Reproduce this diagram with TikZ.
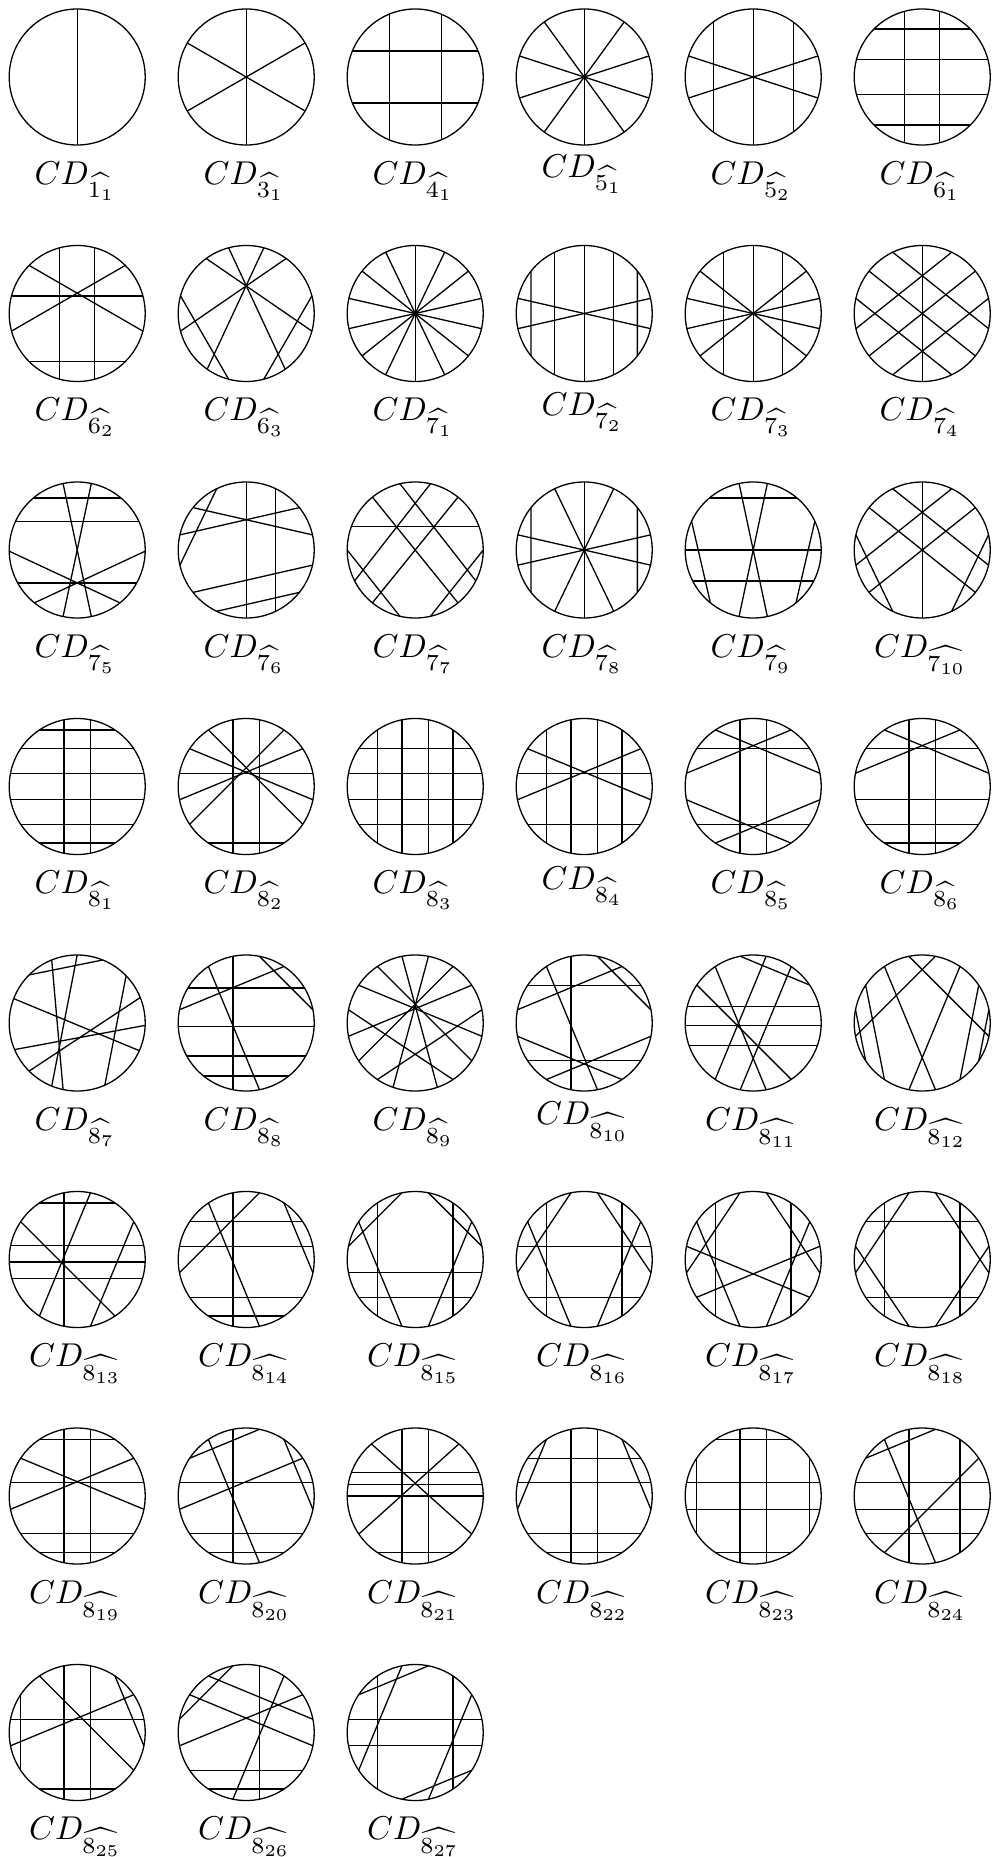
\documentclass[tikz,border=0pt]{standalone}
\usetikzlibrary{calc}
\tikzset{
  cdc/.style={circle, draw, line width=1.3pt, inner sep=0pt, outer sep=0pt, minimum size=136pt},
  chord/.style={line width=1.3pt},
  cdl/.style={anchor=base, scale=3.3, inner sep=0pt}
}
\newcommand\cdgm[5][0]{%
  \node[cdc] (#2) at (#3,#4) {};
  \node[cdl] (#2-l) at ($(#2.center)+(-2,-107+#1)$) {$CD_{\widehat{#5}}$};}
\newcommand\chs[2]{%
  \foreach \a/\b in {#2} {\draw[chord] ($(#1.center)+(\a:68)$) -- ($(#1.center)+(\b:68)$);}}
\newcommand\chk[3]{%
  \pgfmathsetmacro\tz{90+90/#2*(1-mod(#2,2))}%
  \foreach \i/\j in {#3} {%
    \pgfmathsetmacro\ta{\tz+\i*180/#2}%
    \pgfmathsetmacro\tb{\tz+\j*180/#2}%
    \draw[chord] ($(#1.center)+(\ta:68)$) -- ($(#1.center)+(\tb:68)$);}}
\begin{document}
\begin{tikzpicture}[x=1pt,y=1pt]
\useasboundingbox (0,0) rectangle (994,-1857);
% row 1
\cdgm{a1}{77.2}{-77}{1_1}    \chk{a1}{1}{0/1}
\cdgm{a2}{246.2}{-77}{3_1}   \chk{a2}{3}{0/3,1/4,2/5}
\cdgm{a3}{415.2}{-77}{4_1}   \chk{a3}{4}{0/3,7/4,1/6,2/5}
\cdgm[7]{a4}{584.2}{-77}{5_1}   \chk{a4}{5}{0/5,1/6,2/7,3/8,4/9}
\cdgm{a5}{753.2}{-77}{5_2}   \chk{a5}{5}{0/5,2/7,3/8,1/4,9/6}
\cdgm{a6}{922.2}{-77}{6_1}   \chk{a6}{6}{0/5,11/6,1/10,2/9,3/8,4/7}
% row 2
\cdgm{b1}{77.2}{-313.5}{6_2}  \chk{b1}{6}{0/5,11/6,1/8,10/3,2/9,4/7}
\cdgm{b2}{246.2}{-313.5}{6_3} \chs{b2}{126/345,54/195,105/305,75/235,165/255,15/285}
\cdgm{b3}{415.2}{-313.5}{7_1} \chk{b3}{7}{0/7,1/8,2/9,3/10,4/11,5/12,6/13}
\cdgm[5]{b4}{584.2}{-313.5}{7_2} \chk{b4}{7}{0/7,1/6,13/8,2/5,12/9,3/10,4/11}
\cdgm{b5}{753.2}{-313.5}{7_3} \chk{b5}{7}{0/7,1/6,13/8,3/10,4/11,2/9,12/5}
\cdgm{b6}{922.2}{-313.5}{7_4} \chk{b6}{7}{0/7,1/10,2/9,3/8,13/4,12/5,11/6}
% row 3
\cdgm{c1}{77.2}{-550}{7_5}  \chs{c1}{50/130,25/155,209/331,102/282,78/258,181/309,359/231}
\cdgm{c2}{246.2}{-550}{7_6} \chk{c2}{7}{0/7,13/8,1/4,2/11,3/12,5/10,6/9}
\cdgm{c3}{415.2}{-550}{7_7} \chs{c3}{20/160,129/309,51/231,103/333,77/207,180/257,0/283}
\cdgm{c4}{584.2}{-550}{7_8} \chk{c4}{7}{0/7,2/5,12/9,1/8,13/6,3/10,11/4}
\cdgm{c5}{753.2}{-550}{7_9} \chs{c5}{50/130,0/180,207/333,102/282,78/258,155/231,25/309}
\cdgm{c6}{922.2}{-550}{7_{10}} \chk{c6}{7}{0/7,2/9,12/5,1/10,13/4,3/6,11/8}
% row 4
\cdgm{d1}{77.2}{-786.5}{8_1}  \chk{d1}{8}{0/7,15/8,1/14,2/13,3/12,4/11,5/10,6/9}
\cdgm{d2}{246.2}{-786.5}{8_2} \chk{d2}{8}{0/7,15/8,3/12,6/9,2/11,13/4,1/10,14/5}
\cdgm{d3}{415.2}{-786.5}{8_3} \chk{d3}{8}{1/6,0/7,15/8,14/9,2/13,3/12,4/11,5/10}
\cdgm[4]{d4}{584.2}{-786.5}{8_4} \chk{d4}{8}{1/6,0/7,15/8,14/9,3/12,5/10,2/11,13/4}
\cdgm{d5}{753.2}{-786.5}{8_5} \chk{d5}{8}{0/7,15/8,2/13,5/10,1/12,14/3,4/9,11/6}
\cdgm{d6}{922.2}{-786.5}{8_6} \chk{d6}{8}{0/7,15/8,2/13,4/11,5/10,6/9,1/12,14/3}
% row 5
\cdgm{e1}{77.2}{-1023}{8_7}   \chs{e1}{135/68,112/258,90/248,159/336,203/358,225/22,294/44}
\cdgm{e2}{246.2}{-1023}{8_8}  \chk{e2}{8}{0/7,3/14,1/8,15/12} \chs{e2}{31/149,183/357,209/331,231/309}
\cdgm{e3}{415.2}{-1023}{8_9}  \chs{e3}{101.25/289,78.75/251,123.75/326.25,56.25/213.75,146.25/348.75,33.75/191.25,168.75/303.75,11.25/236.25}
\cdgm[6]{e4}{584.2}{-1023}{8_{10}} \chk{e4}{8}{0/7,2/13,5/10,1/8,4/9,11/6,3/14,15/12}
\cdgm{e5}{753.2}{-1023}{8_{11}} \chs{e5}{101/34,14/166,182/358,199/341,146/304,79/236,124/281,56/259}
\cdgm{e6}{922.2}{-1023}{8_{12}} \chk{e6}{8}{0/11,15/4,1/8,14/7,2/6,3/5,13/9,12/10}
% row 6
\cdgm{f1}{77.2}{-1259.5}{8_{13}} \chk{f1}{8}{0/7,15/6,2/9,13/8,1/14} \chs{f1}{12/168,182/358,196/344}
\cdgm{f2}{246.2}{-1259.5}{8_{14}} \chk{f2}{8}{0/7,2/13,3/12,5/10,6/9,1/8,15/4,14/11}
\cdgm{f3}{415.2}{-1259.5}{8_{15}} \chk{f3}{8}{1/6,14/9,4/11,5/10,0/3,15/12,2/7,13/8}
\cdgm{f4}{584.2}{-1259.5}{8_{16}} \chk{f4}{8}{1/6,14/9,3/12,5/10,0/4,15/11,2/7,13/8}
\cdgm{f5}{753.2}{-1259.5}{8_{17}} \chk{f5}{8}{1/6,14/9,3/10,12/5,0/4,15/11,2/7,13/8}
\cdgm{f6}{922.2}{-1259.5}{8_{18}} \chk{f6}{8}{1/6,14/9,2/13,5/10,0/4,15/11,7/3,8/12}
% row 7
\cdgm{g1}{77.2}{-1496}{8_{19}}  \chk{g1}{8}{0/7,15/8,1/14,3/12,5/10,6/9,2/11,13/4}
\cdgm{g2}{246.2}{-1496}{8_{20}} \chk{g2}{8}{0/7,3/12,5/10,6/9,15/2,1/8,13/4,14/11}
\cdgm{g3}{415.2}{-1496}{8_{21}} \chk{g3}{8}{0/7,15/8,6/9} \chs{g3}{130/326,50/214,20/160,10/170,0/180}
\cdgm{g4}{584.2}{-1496}{8_{22}} \chk{g4}{8}{0/7,15/8,2/13,3/12,5/10,6/9,1/4,14/11}
\cdgm{g5}{753.2}{-1496}{8_{23}} \chk{g5}{8}{0/7,15/8,1/14,3/12,4/11,6/9,2/5,13/10}
\cdgm{g6}{922.2}{-1496}{8_{24}} \chk{g6}{8}{0/7,3/12,4/11,5/10,2/15,1/8,13/6,14/9}
% row 8
\cdgm{h1}{77.2}{-1732.5}{8_{25}}  \chk{h1}{8}{0/7,15/8,2/5,3/12,6/9,1/10,4/13,14/11}
\cdgm{h2}{246.2}{-1732.5}{8_{26}} \chk{h2}{8}{15/8,5/10,6/9,0/3,1/12,2/11,4/13,14/7}
\cdgm{h3}{415.2}{-1732.5}{8_{27}} \chk{h3}{8}{1/6,14/9,3/12,4/11,2/15,0/5,13/8,10/7}
\end{tikzpicture}
\end{document}
